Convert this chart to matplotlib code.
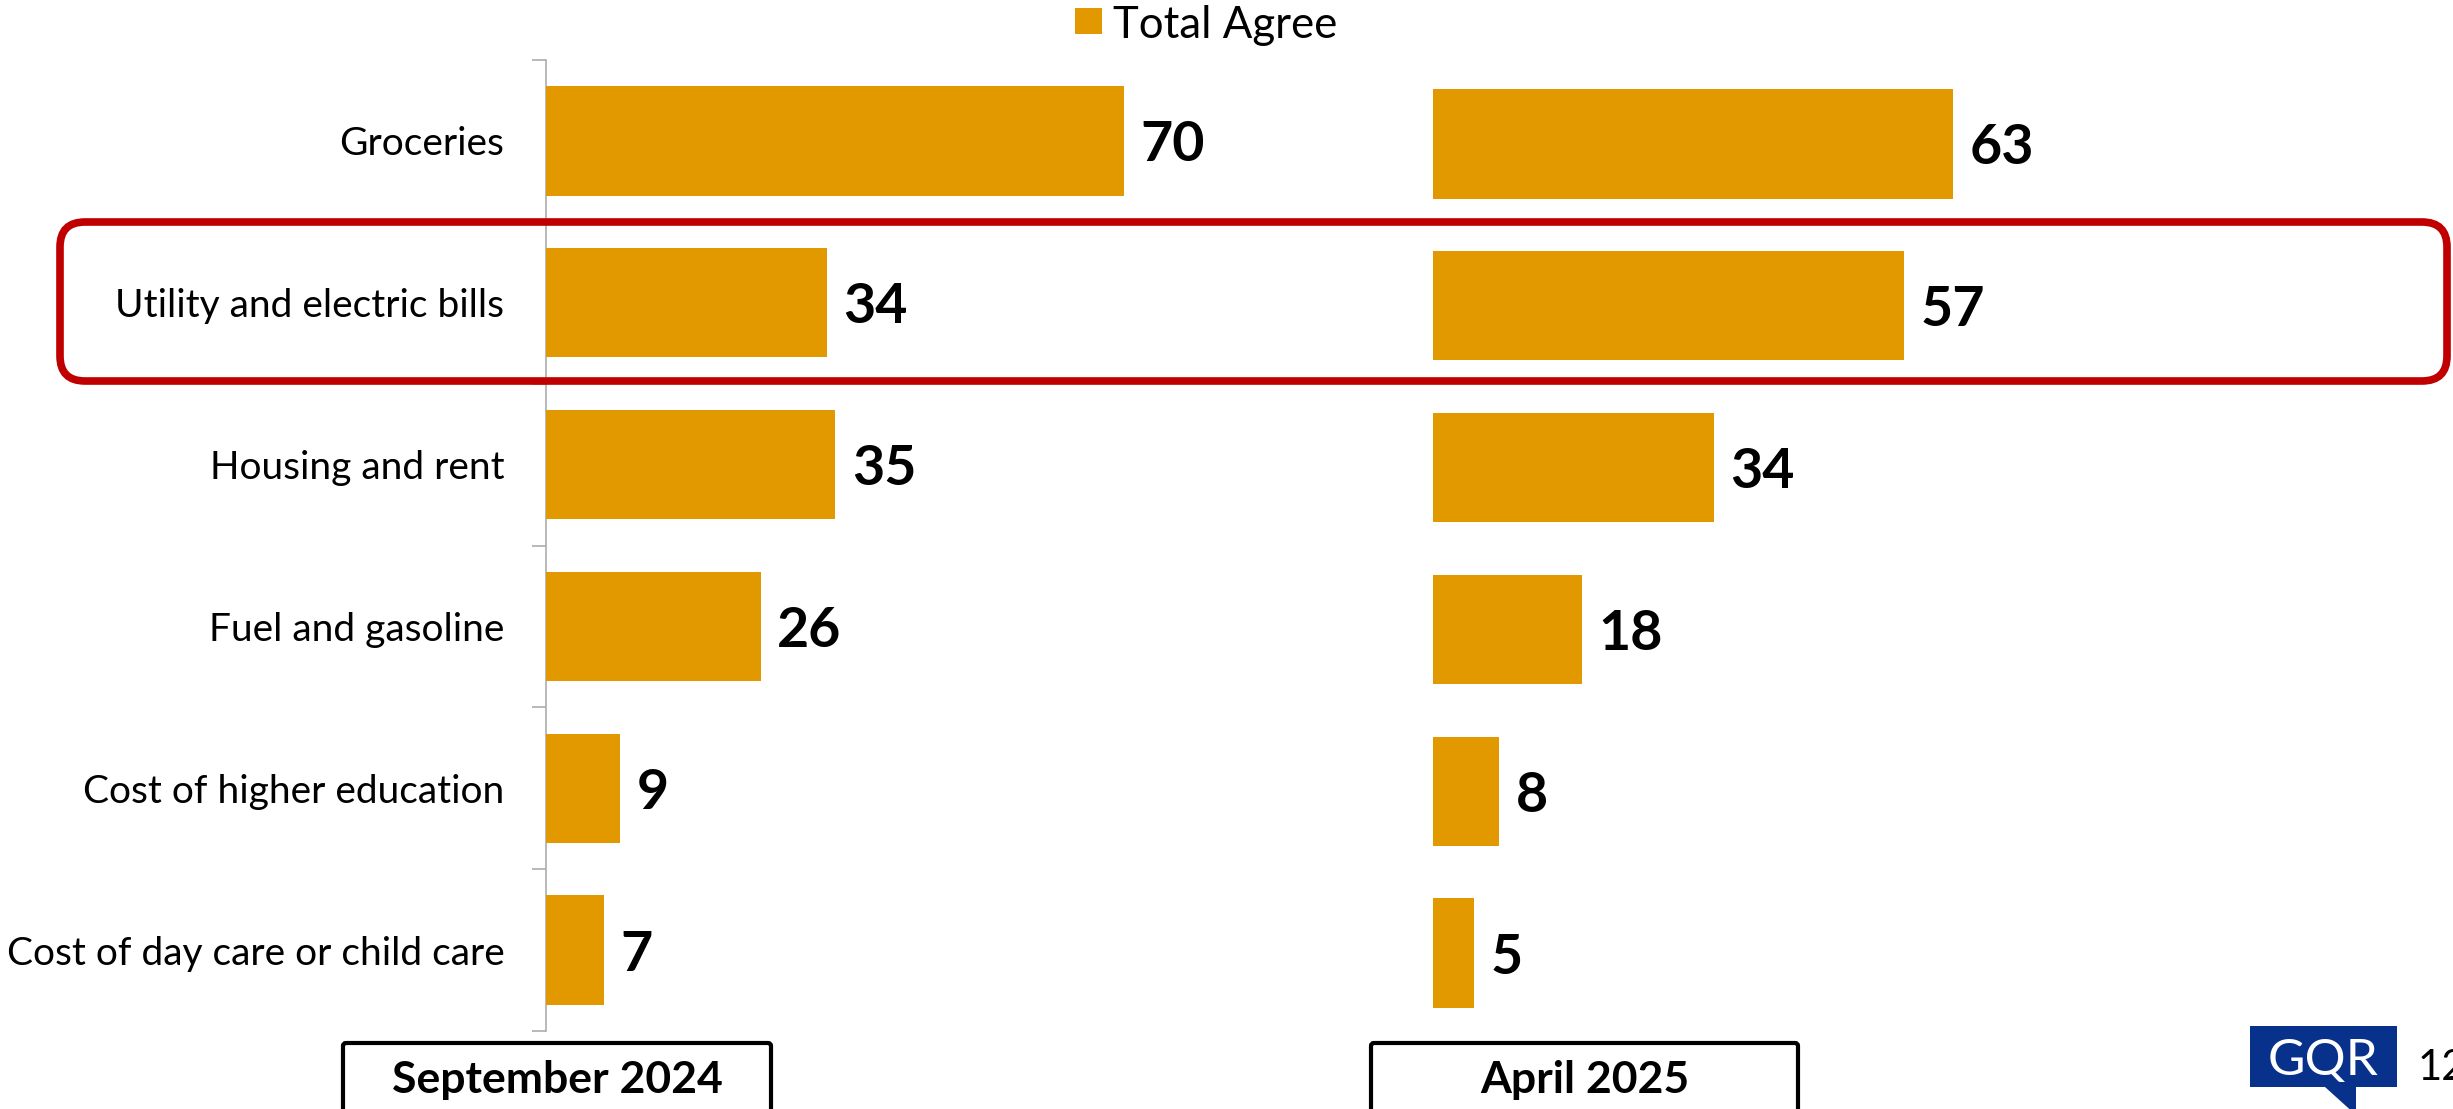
import matplotlib
matplotlib.use("Agg")
import numpy as np
import matplotlib.pyplot as plt
from matplotlib.patches import FancyBboxPatch, Polygon, Rectangle

# ---------------- data ----------------
categories = ["Groceries", "Utility and electric bills", "Housing and rent",
              "Fuel and gasoline", "Cost of higher education",
              "Cost of day care or child care"]
sep_2024 = [70, 34, 35, 26, 9, 7]
apr_2025 = [63, 57, 34, 18, 8, 5]
panel_titles = ["September 2024", "April 2025"]
legend_label = "Total Agree"
logo_text = "GQR"
page_number = "12"

# ---------------- style ----------------
BAR = "#E29900"
RED = "#C00000"
NAVY = "#08318C"
AXGRAY = "#A6A6A6"
FONT = "Lato"
W, H, DPI = 2453, 1109, 100

plt.rcParams["font.family"] = [FONT, "DejaVu Sans"]

fig = plt.figure(figsize=(W / DPI, H / DPI), dpi=DPI)
inch = fig.dpi_scale_trans


def ax_rect(left, top, right, bottom):
    return [left / W, 1 - bottom / H, (right - left) / W, (bottom - top) / H]


def ipt(px, py):
    """pixel (from top-left) -> inches for dpi_scale_trans"""
    return px / DPI, (H - py) / DPI


px_per_unit = 578 / 70
xmax = 100
ax1 = fig.add_axes(ax_rect(546, 60, 546 + xmax * px_per_unit, 1031))
ax2 = fig.add_axes(ax_rect(1433, 63, 1433 + xmax * px_per_unit, 1034))

ypos = np.arange(len(categories))
for ax, vals in ((ax1, sep_2024), (ax2, apr_2025)):
    ax.barh(ypos, vals, height=0.675, color=BAR, zorder=3)
    ax.set_xlim(0, xmax)
    ax.set_ylim(len(categories) - 0.5, -0.5)
    for s in ("top", "right", "bottom"):
        ax.spines[s].set_visible(False)
    ax.set_xticks([])
    ax.patch.set_alpha(0)
    for i, v in enumerate(vals):
        ax.annotate(str(v), (v, i), xytext=(12, 0), textcoords="offset points",
                    va="center_baseline", ha="left", fontsize=40,
                    fontweight="bold", color="black")

# left axis with category labels
ax1.spines["left"].set_color(AXGRAY)
ax1.spines["left"].set_linewidth(1.1)
ax1.set_yticks(ypos)
ax1.set_yticklabels(categories, fontsize=28)
ax1.tick_params(axis="y", which="major", length=0, pad=30)
ax1.set_yticks(np.arange(-0.5, len(categories), 1.0), minor=True)
ax1.tick_params(axis="y", which="minor", length=10, width=1.1,
                color=AXGRAY, direction="out")

# right panel: no axis
ax2.spines["left"].set_visible(False)
ax2.set_yticks([])

# legend (top centre)
x0, y0 = ipt(1075, 34)
x1, y1 = ipt(1102, 8)
fig.add_artist(Rectangle((x0, y0), x1 - x0, y1 - y0, transform=inch,
                         facecolor=BAR, edgecolor="none"))
tx, ty = ipt(1113, 22)
fig.text(tx, ty, legend_label, transform=inch, fontsize=31.5,
         va="center_baseline", ha="left")

# red highlight box
rx0, ry0 = ipt(60, 381)
rx1, ry1 = ipt(2447, 222)
fig.add_artist(FancyBboxPatch((rx0, ry0), rx1 - rx0, ry1 - ry0,
                              boxstyle="round,pad=0,rounding_size=0.25",
                              transform=inch, facecolor="none",
                              edgecolor=RED, linewidth=5.5, zorder=5))

# panel title boxes
for title, (bl, br) in zip(panel_titles, ((343, 771), (1371, 1798))):
    bx0, by0 = ipt(bl, 1140)
    bx1, by1 = ipt(br, 1043)
    fig.add_artist(FancyBboxPatch((bx0, by0), bx1 - bx0, by1 - by0,
                                  boxstyle="round,pad=0,rounding_size=0.03",
                                  transform=inch, facecolor="white",
                                  edgecolor="black", linewidth=3))
    cx, cy = ipt((bl + br) / 2, 1093)
    fig.text(cx, cy, title, transform=inch, fontsize=32, fontweight="bold",
             ha="center", va="baseline")

# GQR logo
pts = [(2250, 1026), (2397, 1026), (2397, 1087), (2356, 1087), (2356, 1115),
       (2325, 1087), (2250, 1087)]
fig.add_artist(Polygon([ipt(*p) for p in pts], closed=True, transform=inch,
                       facecolor=NAVY, edgecolor="none"))
gx, gy = ipt(2323, 1075)
fig.text(gx, gy, logo_text, transform=inch, fontsize=37, color="white",
         ha="center", va="baseline")
nx, ny = ipt(2418, 1080)
fig.text(nx, ny, page_number, transform=inch, fontsize=30, color="black",
         ha="left", va="baseline")

fig.savefig("out.png", dpi=DPI)
